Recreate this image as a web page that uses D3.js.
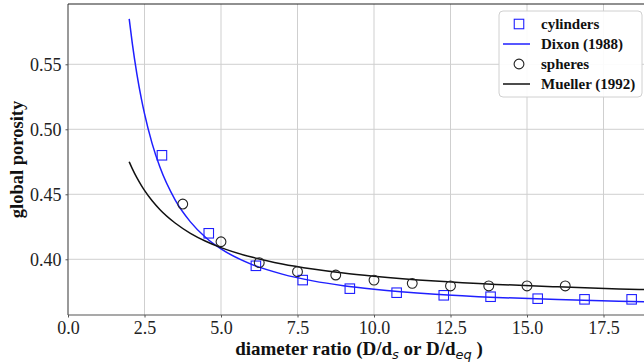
<!DOCTYPE html>
<html>
<head>
<meta charset="utf-8">
<script src="https://cdn.jsdelivr.net/npm/d3@7"></script>
<style>
  html, body { margin: 0; padding: 0; background: #fff; }
  svg { display: block; }
</style>
</head>
<body>
<svg id="chart" width="644" height="363"></svg>
<script>
// Measured porosity for cylinder and sphere packings
const cylRatio = [3.07, 4.60, 6.14, 7.67, 9.21, 10.74, 12.28, 13.81, 15.35, 16.88, 18.42];
const cylPorosity = [0.480, 0.420, 0.395, 0.384, 0.3774, 0.3743, 0.3723, 0.3712, 0.3697, 0.3692, 0.3692];

const sphRatio = [3.75, 5.00, 6.25, 7.50, 8.75, 10.00, 11.25, 12.50, 13.75, 15.00, 16.25];
const sphPorosity = [0.4425, 0.4135, 0.3974, 0.3905, 0.3879, 0.3840, 0.3815, 0.3795, 0.3795, 0.3795, 0.3795];

// Correlation curves (Dixon 1988 for cylinders, Mueller 1992 for spheres)
const curveRatio = [2.0, 2.1, 2.25, 2.4, 2.5, 2.75, 3.0, 3.5, 4.0, 4.5, 5.0, 6.0, 7.0, 8.0, 9.0, 10.0, 12.0, 14.0, 16.0, 18.0, 19.0, 20.0];
const dixonPorosity = [0.585, 0.5663, 0.5427, 0.5232, 0.512, 0.489, 0.4711, 0.4457, 0.4288, 0.4168, 0.408, 0.3961, 0.3886, 0.3834, 0.3797, 0.377, 0.3732, 0.3707, 0.369, 0.3677, 0.3672, 0.3668];
const muellerPorosity = [0.475, 0.4698, 0.4628, 0.4567, 0.453, 0.445, 0.4383, 0.4279, 0.420, 0.4139, 0.409, 0.4017, 0.3964, 0.3925, 0.3894, 0.387, 0.3833, 0.3807, 0.3788, 0.3772, 0.3766, 0.376];

const xTicks = [0, 2.5, 5, 7.5, 10, 12.5, 15, 17.5];
const yTicks = [0.40, 0.45, 0.50, 0.55];

const legendItems = [
  { label: "cylinders", kind: "square" },
  { label: "Dixon (1988)", kind: "blueLine" },
  { label: "spheres", kind: "circle" },
  { label: "Mueller (1992)", kind: "blackLine" }
];

const BLUE = "#1f1fff";
const SERIF = "'Liberation Serif', 'Times New Roman', serif";

const svg = d3.select("#chart");
const plotL = 68, plotT = 4, plotB = 315, plotR = 680;

const x = d3.scaleLinear().domain([0, 20]).range([plotL, plotR]);
const y = d3.scaleLinear().domain([0.35715, 0.59638]).range([plotB, plotT]);

svg.append("defs").append("clipPath").attr("id", "plotClip")
  .append("rect").attr("x", plotL).attr("y", plotT).attr("width", plotR - plotL).attr("height", plotB - plotT);

// grid
const grid = svg.append("g");
grid.selectAll("line.vx").data(xTicks.slice(1)).join("line")
  .attr("x1", d => x(d)).attr("x2", d => x(d)).attr("y1", plotT).attr("y2", plotB)
  .attr("stroke", "#cfcfcf").attr("stroke-width", 1);
grid.selectAll("line.hy").data(yTicks).join("line")
  .attr("x1", plotL).attr("x2", plotR).attr("y1", d => y(d)).attr("y2", d => y(d))
  .attr("stroke", "#cfcfcf").attr("stroke-width", 1);

// axes
const xAxis = d3.axisBottom(x).tickValues(xTicks).tickFormat(d3.format(".1f")).tickSize(2.5).tickPadding(4);
const yAxis = d3.axisLeft(y).tickValues(yTicks).tickFormat(d3.format(".2f")).tickSize(2.5).tickPadding(4);

const gx = svg.append("g").attr("transform", `translate(0,${plotB})`).call(xAxis);
const gy = svg.append("g").attr("transform", `translate(${plotL},0)`).call(yAxis);
[gx, gy].forEach(g => {
  g.select(".domain").attr("stroke", "#555").attr("stroke-width", 1.2);
  g.selectAll(".tick line").attr("stroke", "#555");
  g.selectAll(".tick text").attr("font-family", SERIF).attr("font-size", 18).attr("fill", "#222");
});
gx.select(".domain").attr("d", `M${plotL},0H${plotR}`);
gy.select(".domain").attr("d", `M0,${plotB}V${plotT}`);

// top spine
svg.append("line").attr("x1", plotL).attr("x2", plotR).attr("y1", plotT).attr("y2", plotT)
  .attr("stroke", "#222").attr("stroke-width", 1.2);

// curves
const plot = svg.append("g").attr("clip-path", "url(#plotClip)");
const line = d3.line().x(d => x(d[0])).y(d => y(d[1])).curve(d3.curveMonotoneX);

plot.append("path").datum(curveRatio.map((r, i) => [r, dixonPorosity[i]]))
  .attr("d", line).attr("fill", "none").attr("stroke", BLUE).attr("stroke-width", 1.5);
plot.append("path").datum(curveRatio.map((r, i) => [r, muellerPorosity[i]]))
  .attr("d", line).attr("fill", "none").attr("stroke", "#111").attr("stroke-width", 1.5);

// markers
const sq = 9.5;
plot.selectAll("rect.cyl").data(cylRatio.map((r, i) => [r, cylPorosity[i]])).join("rect")
  .attr("x", d => x(d[0]) - sq / 2).attr("y", d => y(d[1]) - sq / 2)
  .attr("width", sq).attr("height", sq)
  .attr("fill", "none").attr("stroke", BLUE).attr("stroke-width", 1.1);

plot.selectAll("circle.sph").data(sphRatio.map((r, i) => [r, sphPorosity[i]])).join("circle")
  .attr("cx", d => x(d[0])).attr("cy", d => y(d[1])).attr("r", 4.9)
  .attr("fill", "none").attr("stroke", "#222").attr("stroke-width", 1.1);

// axis titles
svg.append("text")
  .attr("transform", `translate(23,${(plotT + plotB) / 2}) rotate(-90)`)
  .attr("text-anchor", "middle")
  .attr("font-family", SERIF).attr("font-weight", "bold").attr("font-size", 18.5).attr("fill", "#111")
  .text("global porosity");

const xt = svg.append("text")
  .attr("x", 359).attr("y", 355).attr("text-anchor", "middle")
  .attr("font-family", SERIF).attr("font-weight", "bold").attr("font-size", 19).attr("fill", "#111");
const subStyle = t => t.attr("font-family", "'DejaVu Sans', sans-serif").attr("font-style", "italic")
  .attr("font-weight", "normal").attr("font-size", 13);
xt.append("tspan").text("diameter ratio (D/d");
xt.append("tspan").attr("dy", 4).call(subStyle).text("s");
xt.append("tspan").attr("dy", -4).text(" or D/d");
xt.append("tspan").attr("dy", 4).call(subStyle).text("eq");
xt.append("tspan").attr("dy", -4).text(" )");

// legend
const lg = svg.append("g");
lg.append("rect").attr("x", 499).attr("y", 11).attr("width", 143).attr("height", 86).attr("rx", 4)
  .attr("fill", "#fff").attr("fill-opacity", 0.92).attr("stroke", "#d0d0d0").attr("stroke-width", 1);
const rowY = i => 24 + i * 20;
legendItems.forEach((item, i) => {
  const cy = rowY(i);
  if (item.kind === "square") {
    lg.append("rect").attr("x", 519 - sq / 2).attr("y", cy - sq / 2).attr("width", sq).attr("height", sq)
      .attr("fill", "none").attr("stroke", BLUE).attr("stroke-width", 1.1);
  } else if (item.kind === "circle") {
    lg.append("circle").attr("cx", 519).attr("cy", cy).attr("r", 4.9)
      .attr("fill", "none").attr("stroke", "#222").attr("stroke-width", 1.1);
  } else {
    lg.append("line").attr("x1", 503).attr("x2", 530).attr("y1", cy).attr("y2", cy)
      .attr("stroke", item.kind === "blueLine" ? BLUE : "#111").attr("stroke-width", 1.5);
  }
  lg.append("text").attr("x", 541).attr("y", cy + 5)
    .attr("font-family", SERIF).attr("font-weight", "bold").attr("font-size", 15).attr("fill", "#111")
    .text(item.label);
});
</script>
</body>
</html>
